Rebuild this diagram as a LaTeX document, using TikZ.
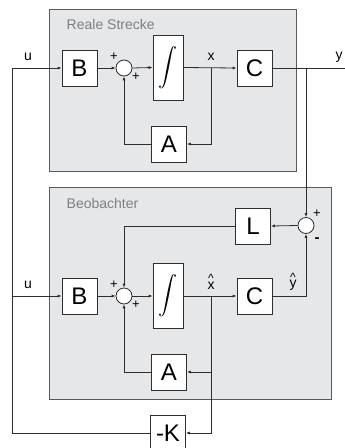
\documentclass[tikz,border=0pt]{standalone}
\usepackage{graphicx}
\usepackage{fontspec}
\setmainfont{Liberation Sans}
\usetikzlibrary{arrows.meta}
\definecolor{panelfill}{HTML}{E6E7E9}
\definecolor{panelline}{HTML}{5A5A5A}
\definecolor{panelText}{HTML}{7F7F7F}
\definecolor{wire}{HTML}{2E2E2E}
\newcommand{\hatlbl}[1]{\shortstack[c]{\fontsize{12}{12}\selectfont\textasciicircum\\[-4pt]#1}}
\newcommand{\intsym}{\resizebox{!}{33pt}{$\displaystyle\int$}}
\tikzset{
  blk/.style={draw=wire,fill=white,line width=0.8pt,minimum width=35pt,minimum height=36pt,inner sep=0pt,font=\fontsize{24}{24}\selectfont},
  intblk/.style={blk,minimum width=30pt,minimum height=65pt},
  sumpt/.style={draw=wire,fill=white,circle,line width=0.8pt,minimum size=16pt,inner sep=0pt},
  panel/.style={draw=panelline,fill=panelfill,line width=0.9pt},
  sig/.style={font=\fontsize{14}{14}\selectfont},
  sgn/.style={font=\fontsize{13}{13}\selectfont,inner sep=0pt},
}
\begin{document}
\begin{tikzpicture}[x=1pt,y=-1pt,>={Latex[length=4pt,width=3.2pt]},line width=0.8pt,draw=wire]
\clip (0,0) rectangle (345,448);
\useasboundingbox (0,0) rectangle (345,448);
% Panels
\draw[panel] (49,9) rectangle (296,171);
\node[anchor=west,text=panelText,font=\fontsize{14}{14}\selectfont] (tReal) at (63,24) {Reale Strecke};
\draw[panel] (49,187) rectangle (331,399);
\node[anchor=west,text=panelText,font=\fontsize{14}{14}\selectfont] (tBeob) at (63,203) {Beobachter};
% Reale Strecke
\node[blk] (B1) at (79.5,68) {B};
\node[sumpt] (S1) at (124,68) {};
\node[intblk] (I1) at (168,67.5) {\intsym};
\node[blk] (C1) at (254.5,68) {C};
\node[blk] (A1) at (169,144) {A};
\coordinate (uin) at (12,68);
\coordinate (xbr) at (211,68);
\coordinate (ybr) at (306,68);
\coordinate (yout) at (346,68);
\draw[->] (uin) -- (B1.west);
\draw[->] (B1.east) -- (S1.west);
\draw[->] (S1.east) -- (I1.west);
\draw[->] (I1.east) -- (C1.west);
\draw (C1.east) -- (yout);
\draw[->] (xbr) |- (A1.east);
\draw[->] (A1.west) -| (S1.south);
\node[sig] (lu1) at (28,57) {u};
\node[sig] (lx1) at (211,57) {x};
\node[sig] (ly1) at (339,57) {y};
\node[sgn] (p1a) at (114,57) {+};
\node[sgn] (p1b) at (136,77) {+};
% Beobachter
\node[blk] (L) at (253,226) {L};
\node[sumpt] (S2) at (306,225.5) {};
\node[blk] (B2) at (79.5,296) {B};
\node[sumpt] (S3) at (124,296) {};
\node[intblk] (I2) at (168,296) {\intsym};
\node[blk] (C2) at (254.5,296) {C};
\node[blk] (A2) at (169,372) {A};
\node[blk] (K) at (168,433) {-K};
\coordinate (uin2) at (12,296);
\coordinate (xhbr) at (211,296);
\draw[->] (ybr) -- (S2.north);
\draw[->] (S2.west) -- (L.east);
\draw[->] (L.west) -| (S3.north);
\draw[->] (uin2) -- (B2.west);
\draw[->] (B2.east) -- (S3.west);
\draw[->] (S3.east) -- (I2.west);
\draw[->] (I2.east) -- (C2.west);
\draw[->] (C2.east) -| (S2.south);
\draw[->] (xhbr) |- (A2.east);
\draw[->] (A2.west) -| (S3.south);
\draw[->] (xhbr) |- (K.east);
\draw (K.west) -| (uin);
\node[sig] (lu2) at (28,285) {u};
\node[sig] (lx2) at (211,282) {\hatlbl{x}};
\node[sig] (ly2) at (293,282) {\hatlbl{y}};
\node[sgn] (p2a) at (317,214) {+};
\node[sgn,font=\fontsize{15}{15}\bfseries] (m2b) at (317,240) {-};
\node[sgn] (p3a) at (114,285) {+};
\node[sgn] (p3b) at (136,305) {+};
\end{tikzpicture}
\end{document}
